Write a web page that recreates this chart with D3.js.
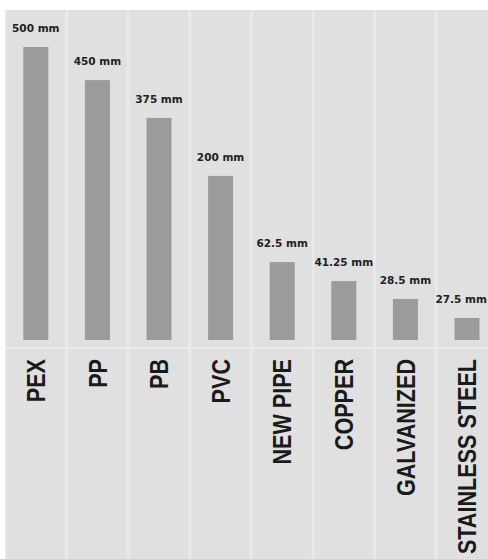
<!DOCTYPE html>
<html>
<head>
<meta charset="utf-8">
<script src="https://cdn.jsdelivr.net/npm/d3@7"></script>
<style>
  html, body { margin: 0; padding: 0; background: #ffffff; }
  svg { display: block; }
</style>
</head>
<body>
<svg id="chart"></svg>
<script>
// pipe materials, left to right
const categories = ["PEX", "PP", "PB", "PVC", "NEW PIPE", "COPPER", "GALVANIZED", "STAINLESS STEEL"];
// values printed above each bar (mm)
const valuesMm = [500, 450, 375, 200, 62.5, 41.25, 28.5, 27.5];
// the graphic is not to scale: bar lengths as drawn, in % of the tallest bar
const drawnLength = [100, 88.7, 75.8, 56, 26.6, 20.1, 14, 7.5];

const width = 488, height = 559;
const panelTop = 10, baseY = 340, splitY = 348, labelTop = 359;

const svg = d3.select("#chart")
    .attr("width", width)
    .attr("height", height);

const x = d3.scaleBand()
    .domain(categories)
    .range([5, 5 + 61.6 * categories.length])
    .paddingInner(0);

const y = d3.scaleLinear()
    .domain([0, 100])
    .range([baseY, 47]);

const rows = categories.map((c, i) => ({ name: c, mm: valuesMm[i], len: drawnLength[i] }));

// column panels with light separators
svg.append("rect")
    .attr("x", 5).attr("y", panelTop)
    .attr("width", width - 5).attr("height", height - panelTop)
    .attr("fill", "#e9e9e9");

svg.selectAll("rect.panel").data(rows).enter().append("rect")
    .attr("class", "panel")
    .attr("x", d => x(d.name) + 1.5)
    .attr("y", panelTop)
    .attr("width", x.bandwidth() - 3)
    .attr("height", height - panelTop)
    .attr("fill", "#e0e0e0");

// horizontal line under the bars
svg.append("line")
    .attr("x1", 5).attr("x2", width)
    .attr("y1", splitY).attr("y2", splitY)
    .attr("stroke", "#ebebeb")
    .attr("stroke-width", 2);

const barW = 25;
svg.selectAll("rect.bar").data(rows).enter().append("rect")
    .attr("class", "bar")
    .attr("x", d => x(d.name) + x.bandwidth() / 2 - barW / 2)
    .attr("y", d => y(d.len))
    .attr("width", barW)
    .attr("height", d => baseY - y(d.len))
    .attr("fill", "#9b9b9b");

// value labels (kept inside the right edge)
svg.selectAll("text.val").data(rows).enter().append("text")
    .attr("class", "val")
    .attr("x", d => x(d.name) + x.bandwidth() / 2)
    .attr("y", d => y(d.len) - 15)
    .attr("text-anchor", "middle")
    .style("font-family", "'DejaVu Sans', sans-serif")
    .style("font-weight", "bold")
    .style("font-size", "10.5px")
    .attr("fill", "#222222")
    .text(d => d.mm + " mm")
    .each(function () {
        const b = this.getBBox();
        if (b.x + b.width > width - 1) {
            d3.select(this).attr("x", +d3.select(this).attr("x") - (b.x + b.width - width + 1));
        }
    });

// rotated category labels
svg.selectAll("text.cat").data(rows).enter().append("text")
    .attr("class", "cat")
    .attr("transform", d => `translate(${x(d.name) + x.bandwidth() / 2},${labelTop}) rotate(-90) scale(1,1.18)`)
    .attr("text-anchor", "end")
    .attr("dy", "0.36em")
    .style("font-family", "'Liberation Sans', Arial, sans-serif")
    .style("font-weight", "bold")
    .style("font-size", "21.6px")
    .attr("fill", "#1a1a1a")
    .text(d => d.name);
</script>
</body>
</html>
